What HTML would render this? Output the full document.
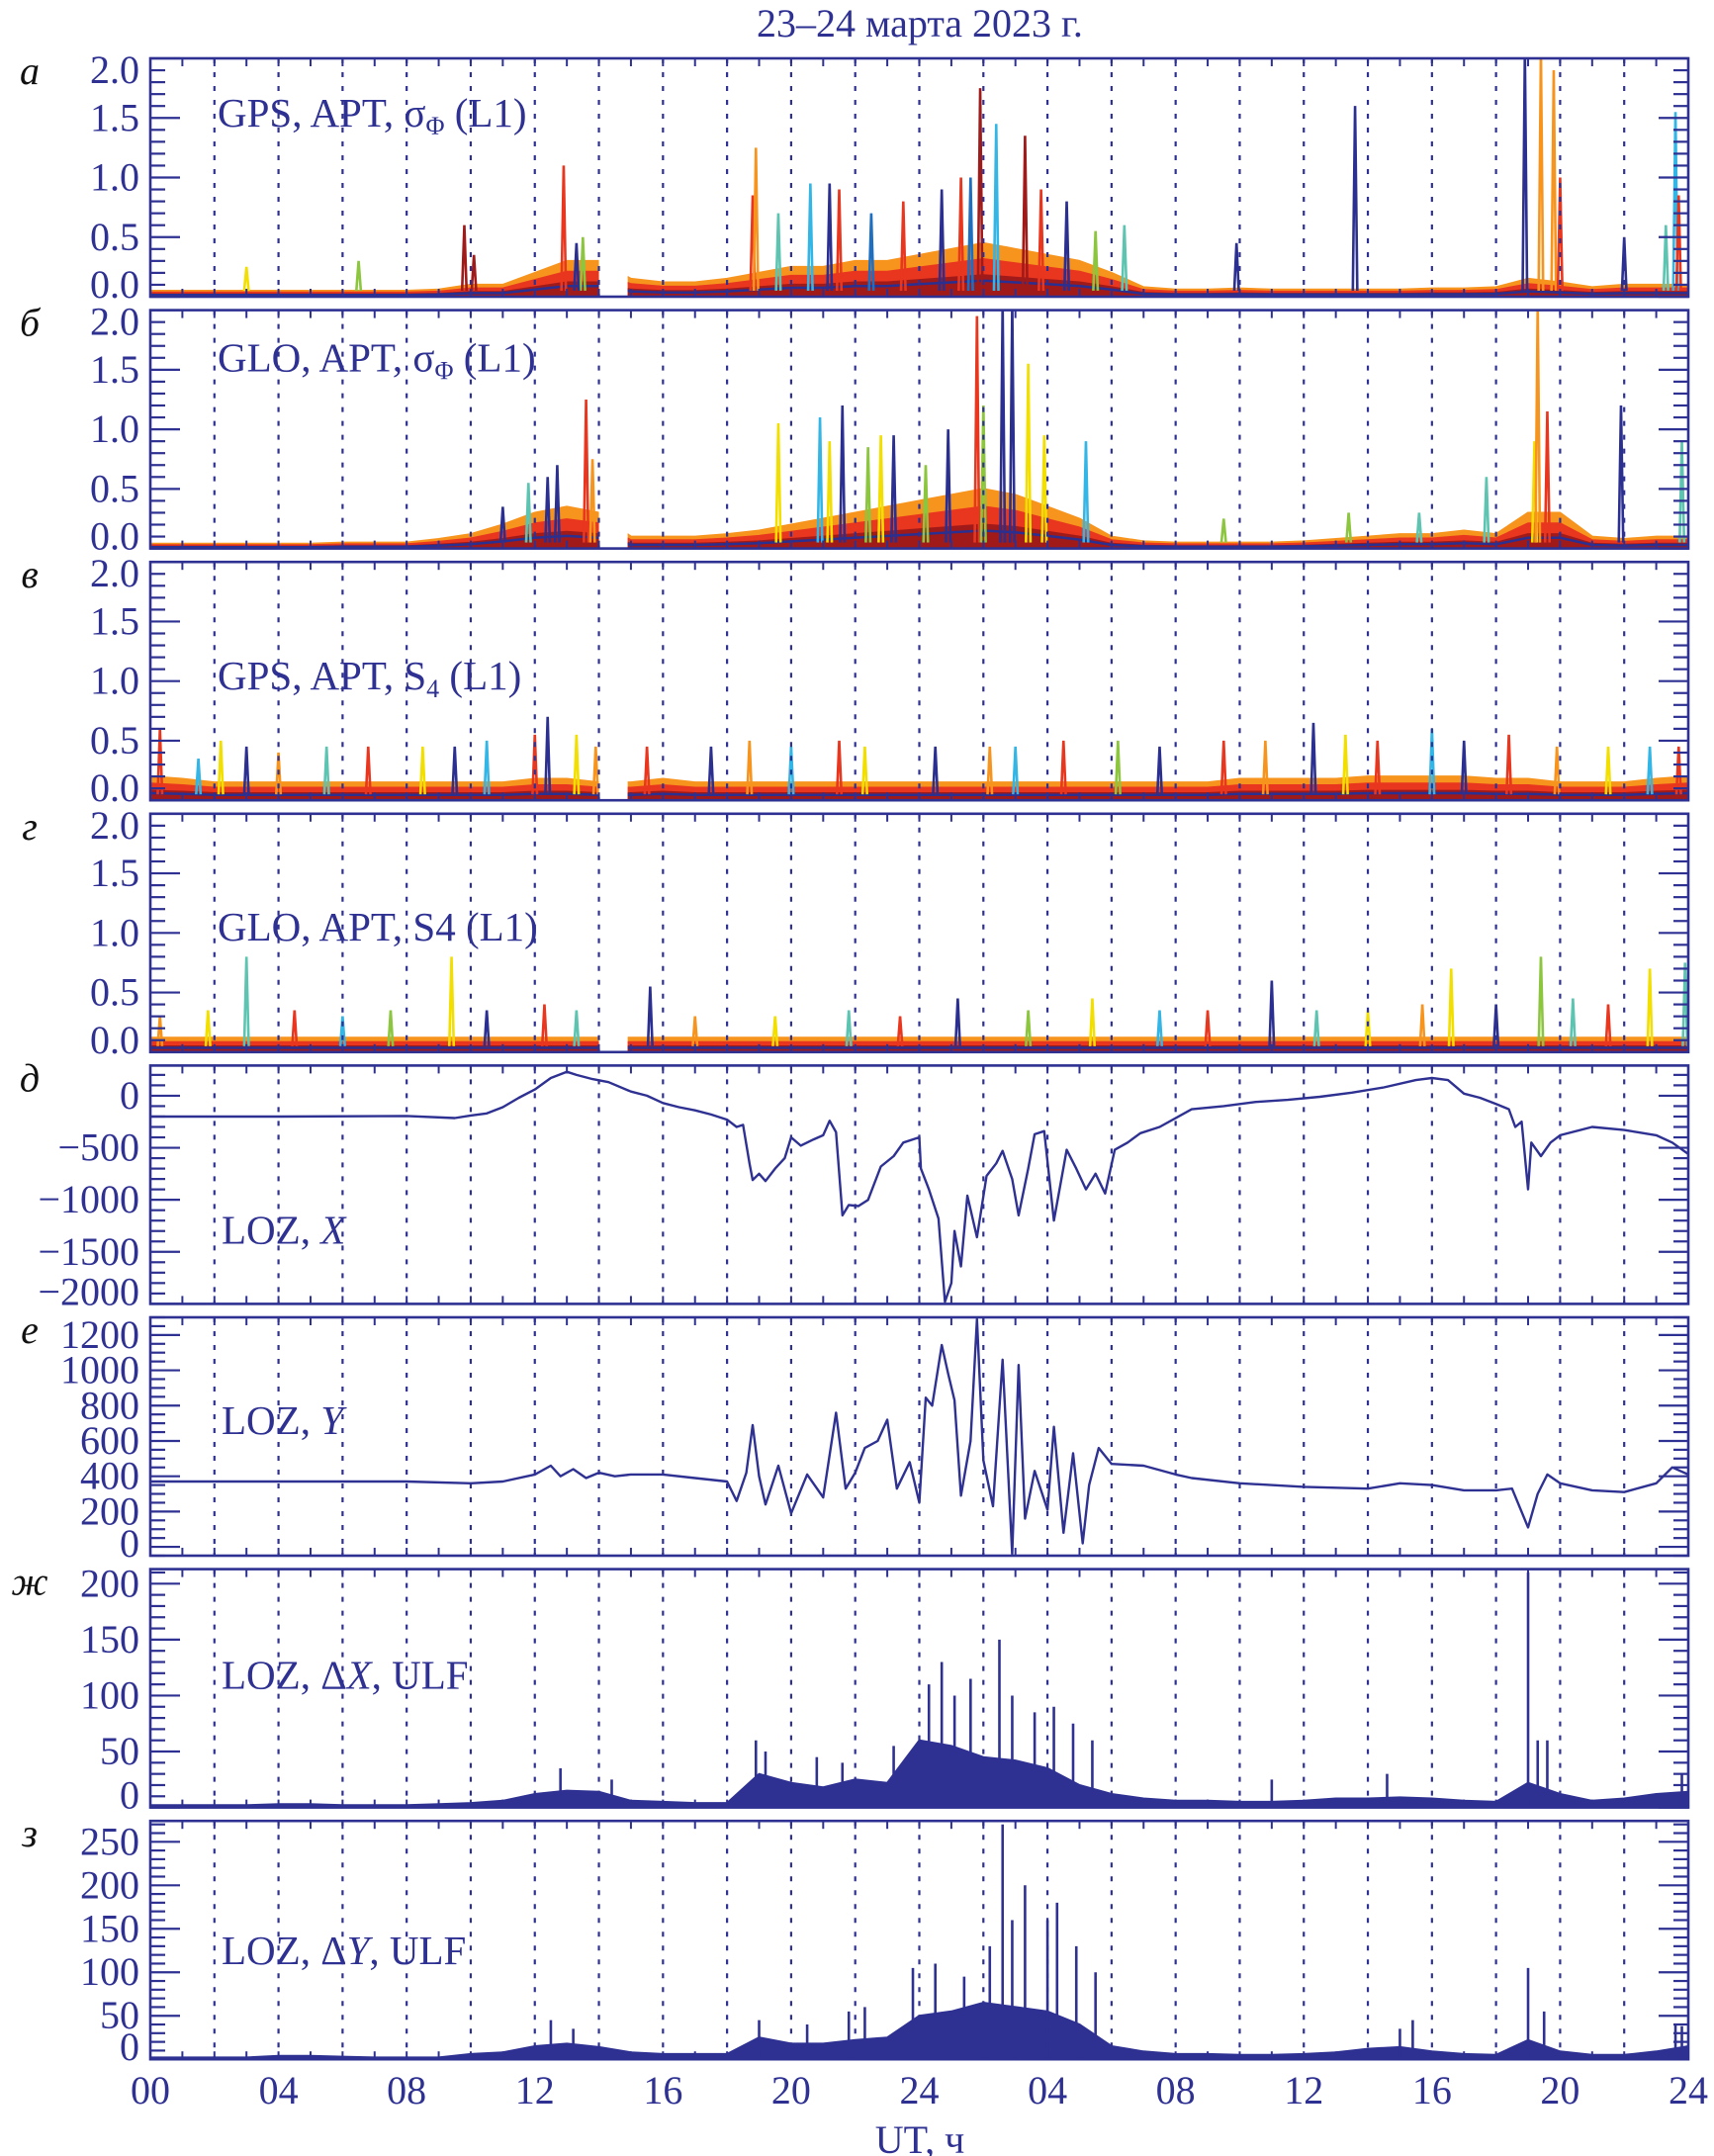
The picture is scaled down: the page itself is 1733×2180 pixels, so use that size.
<!DOCTYPE html>
<html><head><meta charset="utf-8">
<style>
html,body{margin:0;padding:0;background:#fff;}
svg{display:block;font-family:"Liberation Serif","DejaVu Serif",serif;}
</style></head>
<body>
<svg id="chart" width="1733" height="2180" viewBox="0 0 1733 2180" xmlns="http://www.w3.org/2000/svg">
<rect x="0" y="0" width="1733" height="2180" fill="#fff"/>
<text x="930" y="37" font-size="40" fill="#2e3192" text-anchor="middle">23–24 марта 2023 г.</text>
<text x="930" y="2177" font-size="40" fill="#2e3192" text-anchor="middle">UT, ч</text>
</svg>
<script>
// ---------- data (hours 0..48) ----------
const hourCats = Array.from({length:49},(_,i)=>i);
const xTickLabels = ["00","04","08","12","16","20","24","04","08","12","16","20","24"];
const gnssGap = [14.0, 14.9];

const aBand = [0.05,0.05,0.05,0.05,0.05,0.05,0.05,0.05,0.05,0.06,0.1,0.1,0.2,0.3,0.3,0.15,0.12,0.12,0.15,0.2,0.25,0.25,0.3,0.3,0.35,0.4,0.45,0.4,0.35,0.3,0.2,0.08,0.06,0.06,0.07,0.06,0.06,0.06,0.06,0.06,0.07,0.07,0.08,0.15,0.12,0.08,0.1,0.1,0.1];
const aSpikeT = [3.0,6.5,9.8,10.1,12.9,13.5,13.3,18.8,18.9,19.6,20.6,21.2,21.5,22.5,23.5,24.7,25.3,25.6,25.9,26.4,27.3,27.8,28.6,29.5,30.4,33.9,37.6,42.9,43.4,43.8,44.0,46.0,47.3,47.6,47.7];
const aSpikeV = [0.25,0.3,0.6,0.35,1.1,0.5,0.45,0.85,1.25,0.7,0.95,0.95,0.9,0.7,0.8,0.9,1.0,1.0,1.75,1.45,1.35,0.9,0.8,0.55,0.6,0.45,1.6,2.05,2.05,1.9,1.0,0.5,0.6,1.55,0.85];
const aSpikeC = [5,4,8,8,7,4,0,7,6,3,2,0,7,1,7,0,7,1,8,2,8,7,0,4,3,0,0,0,6,6,7,0,3,2,7];

const bBand = [0.04,0.04,0.04,0.04,0.04,0.04,0.05,0.05,0.05,0.08,0.12,0.2,0.3,0.35,0.3,0.1,0.1,0.1,0.12,0.15,0.2,0.25,0.3,0.35,0.4,0.45,0.5,0.45,0.35,0.25,0.1,0.06,0.05,0.05,0.05,0.05,0.06,0.08,0.1,0.12,0.12,0.15,0.12,0.3,0.3,0.1,0.08,0.1,0.1];
const bSpikeT = [11.0,11.8,12.4,12.7,13.6,13.8,19.6,20.9,21.2,21.6,22.4,22.8,23.2,24.2,24.9,25.8,26.0,26.6,26.9,27.4,27.9,29.2,33.5,37.4,39.6,41.7,43.2,43.3,43.6,45.9,47.8];
const bSpikeV = [0.35,0.55,0.6,0.7,1.25,0.75,1.05,1.1,0.9,1.2,0.85,0.95,0.95,0.7,1.0,1.95,1.2,2.05,2.05,1.55,0.95,0.9,0.25,0.3,0.3,0.6,0.9,2.05,1.15,1.2,0.9];
const bSpikeC = [0,3,0,0,7,6,5,2,5,0,4,5,0,4,0,7,4,0,0,5,5,2,4,4,3,3,5,6,7,0,3];

const cBand = [0.2,0.18,0.15,0.15,0.15,0.15,0.15,0.15,0.15,0.15,0.15,0.15,0.18,0.18,0.15,0.15,0.18,0.15,0.15,0.15,0.15,0.15,0.15,0.15,0.15,0.15,0.15,0.15,0.15,0.15,0.15,0.15,0.15,0.15,0.18,0.18,0.18,0.18,0.2,0.2,0.2,0.2,0.18,0.18,0.15,0.15,0.15,0.18,0.2];
const cSpikeT = [0.3,1.5,2.2,3.0,4.0,5.5,6.8,8.5,9.5,10.5,12.0,12.4,13.3,13.9,15.5,17.5,18.7,20.0,21.5,22.3,24.5,26.2,27.0,28.5,30.2,31.5,33.5,34.8,36.3,37.3,38.3,40.0,41.0,42.4,43.9,45.5,46.8,47.7];
const cSpikeV = [0.6,0.35,0.5,0.45,0.4,0.45,0.45,0.45,0.45,0.5,0.55,0.7,0.55,0.45,0.45,0.45,0.5,0.45,0.5,0.45,0.45,0.45,0.45,0.5,0.5,0.45,0.5,0.5,0.65,0.55,0.5,0.6,0.5,0.55,0.45,0.45,0.45,0.45];
const cSpikeC = [7,2,5,0,6,3,7,5,0,2,7,0,5,6,7,0,6,2,7,5,0,6,2,7,4,0,7,6,0,5,7,2,0,7,6,5,2,7];

const dBand = [0.12,0.12,0.12,0.12,0.12,0.12,0.12,0.12,0.12,0.12,0.12,0.12,0.12,0.12,0.12,0.12,0.12,0.12,0.12,0.12,0.12,0.12,0.12,0.12,0.12,0.12,0.12,0.12,0.12,0.12,0.12,0.12,0.12,0.12,0.12,0.12,0.12,0.12,0.12,0.12,0.12,0.12,0.12,0.12,0.12,0.12,0.12,0.12,0.12];
const dSpikeT = [0.3,1.8,3.0,4.5,6.0,7.5,9.4,10.5,12.3,13.3,15.6,17.0,19.5,21.8,23.4,25.2,27.4,29.4,31.5,33.0,35.0,36.4,38.0,39.7,40.6,42.0,43.4,44.4,45.5,46.8,47.9];
const dSpikeV = [0.3,0.35,0.8,0.35,0.3,0.35,0.8,0.35,0.4,0.35,0.55,0.3,0.3,0.35,0.3,0.45,0.35,0.45,0.35,0.35,0.6,0.35,0.35,0.4,0.7,0.4,0.8,0.45,0.4,0.7,0.75];
const dSpikeC = [6,5,3,7,2,4,5,0,7,3,0,6,5,3,7,0,4,5,2,7,0,3,5,6,5,0,4,3,7,5,3];

const xT = [0,4,8,9.5,10,10.5,11,11.5,12,12.5,13,13.3,13.8,14.3,15,15.5,16,16.5,17,17.5,18,18.3,18.5,18.7,18.8,19.0,19.2,19.5,19.8,20.0,20.3,20.7,21.0,21.2,21.4,21.6,21.8,22.1,22.4,22.8,23.2,23.5,23.8,24.0,24.05,24.3,24.6,24.8,25.0,25.1,25.3,25.5,25.8,26.1,26.4,26.6,26.9,27.1,27.4,27.6,27.9,28.2,28.6,28.9,29.2,29.5,29.8,30.1,30.5,30.9,31.5,32.5,33.5,34.5,35.5,36.5,37.5,38.5,39.5,40,40.5,41,41.5,42,42.4,42.6,42.8,43.0,43.1,43.4,43.7,44,45,46,47,47.5,48];
const xV = [-200,-200,-195,-215,-190,-170,-110,-20,60,170,230,200,160,130,40,0,-70,-110,-140,-180,-230,-300,-280,-650,-810,-750,-820,-700,-600,-400,-480,-420,-380,-240,-350,-1150,-1050,-1060,-1000,-680,-580,-450,-420,-400,-700,-900,-1180,-1980,-1800,-1300,-1640,-960,-1360,-770,-650,-530,-800,-1150,-700,-370,-340,-1200,-520,-700,-900,-750,-940,-520,-450,-360,-300,-130,-100,-60,-40,-10,30,80,150,170,150,20,-20,-80,-130,-300,-250,-900,-450,-580,-450,-380,-300,-330,-380,-450,-560];

const yT = [0,4,8,10,11,12,12.5,12.8,13.2,13.6,14,14.5,15,16,17,18,18.3,18.6,18.8,19.0,19.2,19.6,20,20.5,21.0,21.4,21.7,22.0,22.3,22.7,23.0,23.3,23.7,24.0,24.2,24.4,24.7,24.9,25.1,25.3,25.6,25.8,26.0,26.3,26.6,26.9,27.1,27.3,27.6,28.0,28.2,28.5,28.8,29.1,29.3,29.6,30,31,32,32.5,34,36,38,39,40,41,42,42.5,43.0,43.3,43.6,44,45,46,47,47.5,48];
const yV = [370,370,370,360,370,410,460,400,440,390,420,400,410,410,390,370,260,420,690,400,240,460,190,410,280,760,330,420,560,600,720,330,480,250,845,800,1143,980,830,290,600,1290,490,230,1060,-40,1030,160,430,210,680,80,530,20,350,560,470,460,410,390,360,340,330,360,350,320,320,330,110,300,410,360,320,310,360,450,410];

const zhEnv = [2,2,2,2,3,3,2,2,2,3,4,6,12,15,14,6,5,4,4,30,22,18,25,22,60,55,45,42,35,20,12,8,6,6,5,5,6,8,8,9,8,6,5,22,12,6,8,12,14];
const zhSpikeT = [12.8,14.4,18.9,19.2,20.8,21.6,23.2,24.3,24.7,25.1,25.6,26.5,26.9,27.6,28.2,28.8,29.4,35.0,38.6,43.0,43.3,43.6,47.8];
const zhSpikeV = [35,25,60,50,45,40,55,110,130,100,115,150,100,85,90,75,60,25,30,210,60,60,30];

const zEnv = [2,2,2,2,4,4,3,2,2,2,6,8,15,18,14,8,6,6,6,25,18,18,22,25,50,55,65,60,55,40,15,9,6,6,5,5,6,8,12,14,9,6,5,22,9,5,5,9,15];
const zSpikeT = [12.5,13.2,19.0,20.5,21.8,22.3,23.8,24.5,25.4,26.2,26.6,26.9,27.3,28.0,28.3,28.9,29.5,39.0,39.4,43.0,43.5,47.6,47.8];
const zSpikeV = [45,35,45,40,55,60,105,110,95,130,270,160,200,160,180,130,100,35,45,105,55,40,38];

// ---------- rendering ----------
const NS='http://www.w3.org/2000/svg';
const svg=document.getElementById('chart');
const BLUE='#2e3192';
const PAL=['#2b2f8f','#1f6fc0','#33b5e5','#5cc4b0','#8cc63f','#f2df00','#f7941d','#e8361f','#a01a1a'];
const L=152,R=1707,TOP0=59,PH=241,STEP=254.6;
const xs=h=>L+(R-L)*h/48;
function mk(tag,attrs,parent){const e=document.createElementNS(NS,tag);for(const k in attrs)e.setAttribute(k,attrs[k]);(parent||svg).appendChild(e);return e;}

const panels=[
 {id:'a',letter:'а',min:0,max:2.0,major:0.5,minor:0.1,fmt:v=>v.toFixed(1)},
 {id:'b',letter:'б',min:0,max:2.0,major:0.5,minor:0.1,fmt:v=>v.toFixed(1)},
 {id:'c',letter:'в',min:0,max:2.0,major:0.5,minor:0.1,fmt:v=>v.toFixed(1)},
 {id:'d',letter:'г',min:0,max:2.0,major:0.5,minor:0.1,fmt:v=>v.toFixed(1)},
 {id:'x',letter:'д',min:-2000,max:290,major:500,minor:100,fmt:v=>v<0?'\u2212'+(-v):String(v)},
 {id:'y',letter:'е',min:-50,max:1300,major:200,minor:50,fmt:v=>String(v)},
 {id:'zh',letter:'ж',min:0,max:213,major:50,minor:10,fmt:v=>String(v)},
 {id:'z',letter:'з',min:0,max:274,major:50,minor:10,fmt:v=>String(v)}
];
panels.forEach((p,i)=>{p.top=TOP0+i*STEP;p.bot=p.top+PH;p.ys=v=>p.bot-(v-p.min)/(p.max-p.min)*PH;});

function drawFrame(p){
  const g=mk('g',{});
  
  
  for(let h=2;h<48;h+=2){
    const ln=mk('line',{x1:xs(h),x2:xs(h),y1:p.top,y2:p.bot,stroke:BLUE,'stroke-width':2.2,'stroke-dasharray':'5 9'},g);
    
    
  }
  for(let h=1;h<48;h++){
    const len=8;
    const t1=mk('line',{x1:xs(h),x2:xs(h),y1:p.top,y2:p.top+len,stroke:BLUE,'stroke-width':2},g);
    
    
    const t2=mk('line',{x1:xs(h),x2:xs(h),y1:p.bot,y2:p.bot-len,stroke:BLUE,'stroke-width':2},g);
    
    
  }
  const start=Math.ceil(p.min/p.minor-1e-6);
  for(let k=start;k*p.minor<=p.max+1e-9;k++){
    const v=k*p.minor;
    const isMaj=Math.abs(v/p.major-Math.round(v/p.major))<1e-6;
    const y=p.ys(v);
    if(y<p.top-0.5||y>p.bot+0.5)continue;
    const len=isMaj?30:15;
    const tl=mk('line',{x1:L,x2:L+len,y1:y,y2:y,stroke:BLUE,'stroke-width':2.2},g);
    
    
    const tr=mk('line',{x1:R,x2:R-len,y1:y,y2:y,stroke:BLUE,'stroke-width':2.2},g);
    
    
    if(isMaj){
      const cy=Math.min(Math.max(y,p.top+12),p.bot-12);
      const tx=mk('text',{x:141,y:cy+13,'font-size':40,fill:BLUE,'text-anchor':'end'},g);
      tx.textContent=p.fmt(Math.round(v*10)/10);
      
      
    }
  }
  const fr=mk('rect',{x:L,y:p.top,width:R-L,height:PH,fill:'none',stroke:BLUE,'stroke-width':2.6},g);
  
  
  const lt=mk('text',{x:30,y:p.top+26,'font-size':40,'font-style':'italic',fill:'#111','text-anchor':'middle'},g);
  lt.textContent=p.letter;
  
  
  return g;
}

function clipFor(p,gap){
  const cp=mk('clipPath',{id:'clip-'+p.id});
  if(gap){
    mk('rect',{x:L,y:p.top,width:xs(gap[0])-L,height:PH},cp);
    mk('rect',{x:xs(gap[1]),y:p.top,width:R-xs(gap[1]),height:PH},cp);
  } else mk('rect',{x:L,y:p.top,width:R-L,height:PH},cp);
  return 'url(#clip-'+p.id+')';
}

function bandPath(p,band,f){
  let d='M'+xs(0)+','+p.ys(0);
  band.forEach((v,i)=>{d+=' L'+xs(hourCats[i]).toFixed(1)+','+p.ys(v*f).toFixed(1);});
  d+=' L'+xs(48)+','+p.ys(0)+' Z';
  return d;
}

function drawGnss(p,band,sT,sV,sC){
  const g=mk('g',{'clip-path':clipFor(p,gnssGap)});
  
  
  const layers=[[6,1.0],[7,0.7],[8,0.4]];
  layers.forEach(([c,f])=>{
    const pa=mk('path',{d:bandPath(p,band,f),fill:PAL[c],stroke:PAL[c],'stroke-width':2,'stroke-linejoin':'round'},g);
    
    
  });
  let d='';
  band.forEach((v,i)=>{d+=(i?' L':'M')+xs(hourCats[i]).toFixed(1)+','+p.ys(v*0.3).toFixed(1);});
  const nl=mk('path',{d:d,fill:'none',stroke:PAL[0],'stroke-width':2.5},g);
  
  
  sT.forEach((t,i)=>{
    const w=0.07;
    const pa=mk('path',{d:'M'+xs(t-w)+','+p.ys(0.05)+' L'+xs(t)+','+p.ys(sV[i])+' L'+xs(t+w)+','+p.ys(0.05),fill:'none',stroke:PAL[sC[i]],'stroke-width':2.6},g);
    
    
  });
}

function drawLine(p,T,V,name){
  const g=mk('g',{'clip-path':clipFor(p,null)});
  let d='';
  T.forEach((t,i)=>{d+=(i?' L':'M')+xs(t).toFixed(1)+','+p.ys(V[i]).toFixed(1);});
  const pa=mk('path',{d:d,fill:'none',stroke:BLUE,'stroke-width':2.4,'stroke-linejoin':'round'},g);
  
  
}

function drawUlf(p,env,sT,sV,name){
  const g=mk('g',{'clip-path':clipFor(p,null)});
  
  
  const pa=mk('path',{d:bandPath(p,env,1),fill:BLUE,stroke:BLUE,'stroke-width':2},g);
  
  
  sT.forEach((t,i)=>{
    const ln=mk('line',{x1:xs(t),x2:xs(t),y1:p.ys(0),y2:p.ys(sV[i]),stroke:BLUE,'stroke-width':2.6},g);
    
    
  });
}

const P={};panels.forEach(p=>P[p.id]=p);
drawGnss(P.a,aBand,aSpikeT,aSpikeV,aSpikeC);
drawGnss(P.b,bBand,bSpikeT,bSpikeV,bSpikeC);
drawGnss(P.c,cBand,cSpikeT,cSpikeV,cSpikeC);
drawGnss(P.d,dBand,dSpikeT,dSpikeV,dSpikeC);
drawLine(P.x,xT,xV,'x-component-line');
drawLine(P.y,yT,yV,'y-component-line');
drawUlf(P.zh,zhEnv,zhSpikeT,zhSpikeV,'ulf-dx');
drawUlf(P.z,zEnv,zSpikeT,zSpikeV,'ulf-dy');
panels.forEach(p=>drawFrame(p));

function label(p,dy,x,parts,name){
  const t=mk('text',{x:x,y:p.top+dy,'font-size':41,fill:BLUE});
  parts.forEach(([s,style])=>{
    const ts=mk('tspan',{},t);
    if(style==='sub'){ts.setAttribute('font-size','26');ts.setAttribute('dy','8');}
    else if(style==='after'){ts.setAttribute('dy','-8');}
    else if(style==='it'){ts.setAttribute('font-style','italic');}
    ts.textContent=s;
  });
  
  
}
label(P.a,69,220,[['GPS, APT, σ',''],['Φ','sub'],[' (L1)','after']],'panel-a-label');
label(P.b,62,220,[['GLO, APT, σ',''],['Φ','sub'],[' (L1)','after']],'panel-b-label');
label(P.c,129,220,[['GPS, APT, S',''],['4','sub'],[' (L1)','after']],'panel-c-label');
label(P.d,128,220,[['GLO, APT, S4 (L1)','']],'panel-d-label');
label(P.x,180,224,[['LOZ, ',''],['X','it']],'panel-x-label');
label(P.y,118,224,[['LOZ, ',''],['Y','it']],'panel-y-label');
label(P.zh,121,224,[['LOZ, Δ',''],['X','it'],[', ULF','']],'panel-zh-label');
label(P.z,145,224,[['LOZ, Δ',''],['Y','it'],[', ULF','']],'panel-z-label');

xTickLabels.forEach((s,i)=>{
  const t=mk('text',{x:xs(i*4),y:2127,'font-size':40,fill:BLUE,'text-anchor':'middle'});
  t.textContent=s;
  
  
});
</script>
</body></html>
